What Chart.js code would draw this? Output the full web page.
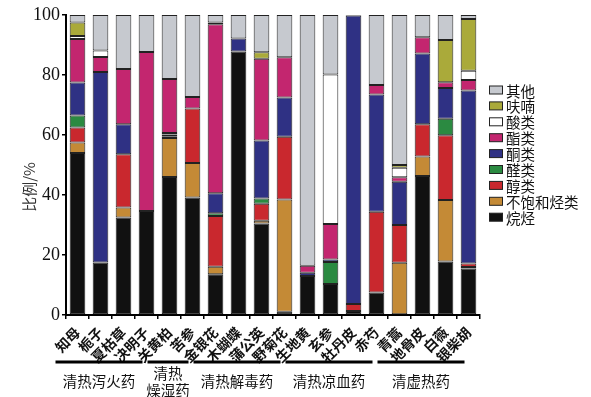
<!DOCTYPE html>
<html>
<head>
<meta charset="utf-8">
<script src="https://cdn.jsdelivr.net/npm/chart.js@4.4.1/dist/chart.umd.min.js"></script>
<style>
  html, body { margin: 0; padding: 0; background: #fff; }
  #chart { display: block; }
</style>
</head>
<body>
<canvas id="chart" width="591" height="397"></canvas>
<script>
const herbs = ['知母', '栀子', '夏枯草', '决明子', '关黄柏', '苦参', '金银花', '木蝴蝶', '蒲公英',
  '野菊花', '生地黄', '玄参', '牡丹皮', '赤芍', '青蒿', '地骨皮', '白薇', '银柴胡'];

// 各类成分比例 (%)
const alkanes     = [54, 17.5, 32.5, 34.7, 46, 39.2, 13.6, 87.8, 30.5, 1.1, 13, 10.3, 1.3, 7.5, 0, 46.3, 17.8, 15.5];
const alkenes     = [3.5, 0, 3.3, 0, 13, 11.5, 2.5, 0, 0.9, 37.4, 0, 0, 0, 0, 17.4, 6.5, 20.5, 0.5];
const alcohols    = [5, 0, 17.8, 0, 0.6, 18.1, 16.9, 0, 5.7, 20.9, 0, 0, 2.4, 26.9, 12.6, 10.8, 21.6, 1.2];
const aldehydes   = [4, 0, 0, 0, 0.6, 0, 0.9, 0, 1.7, 0, 0, 7.4, 0, 0, 0, 0, 5.5, 0];
const ketones     = [11, 63.5, 10, 0, 0.5, 0, 6.7, 4.4, 19.4, 13.1, 1.1, 0.8, 96.1, 39.1, 14.4, 23.6, 10.3, 57.6];
const esters      = [14.5, 5, 18.4, 53, 18, 3.9, 56.3, 0, 27.2, 13.4, 2.3, 11.8, 0, 3.2, 1.5, 5.4, 1.9, 3.5];
const acids       = [1, 2.2, 0, 0, 0, 0, 0, 0, 0, 0, 0, 49.9, 0, 0, 3.2, 0, 0, 3.1];
const furans      = [4.5, 0, 0, 0, 0, 0, 0.6, 0, 2.2, 0, 0, 0, 0, 0, 0.9, 0, 14.1, 17.3];
const others      = [2.5, 11.8, 18, 12.3, 21.3, 27.3, 2.5, 7.8, 12.4, 14.1, 83.6, 19.8, 0.2, 23.3, 50, 7.4, 8.3, 1.3];

const yTicks = [0, 20, 40, 60, 80, 100];

// 药物分组 (起止下标)
const groups = [
  { name: ['清热泻火药'], from: 0, to: 3 },
  { name: ['清热', '燥湿药'], from: 4, to: 5 },
  { name: ['清热解毒药'], from: 6, to: 9 },
  { name: ['清热凉血药'], from: 10, to: 13 },
  { name: ['清虚热药'], from: 14, to: 17 }
];

const cjk = "'Noto Sans CJK SC', 'Noto Sans', sans-serif";

const series = [
  { label: '烷烃', data: alkanes, color: '#111111' },
  { label: '不饱和烃类', data: alkenes, color: '#c48a36' },
  { label: '醇类', data: alcohols, color: '#c9282e' },
  { label: '醛类', data: aldehydes, color: '#2b8a41' },
  { label: '酮类', data: ketones, color: '#2f3184' },
  { label: '酯类', data: esters, color: '#c3266f' },
  { label: '酸类', data: acids, color: '#ffffff' },
  { label: '呋喃', data: furans, color: '#aaaa3a' },
  { label: '其他', data: others, color: '#c6c9cf' }
];

const deko = {
  id: 'deko',
  afterDraw(chart) {
    const c = chart.ctx;
    const x = chart.scales.x;
    c.save();

    // y轴标题
    c.save();
    c.translate(29, 187);
    c.rotate(-Math.PI / 2);
    c.fillStyle = '#333';
    c.font = '15px ' + cjk;
    c.textAlign = 'center';
    c.textBaseline = 'middle';
    c.fillText('比例/%', 0, 0);
    c.restore();

    // 图例 (从上到下倒序)
    const ds = chart.data.datasets;
    c.font = '14.5px ' + cjk;
    c.textBaseline = 'middle';
    c.textAlign = 'left';
    for (let i = 0; i < ds.length; i++) {
      const d = ds[ds.length - 1 - i];
      const yy = 90 + i * 15.9;
      c.fillStyle = d.backgroundColor;
      c.fillRect(489.5, yy - 4, 13, 8);
      c.strokeStyle = '#222';
      c.lineWidth = 1;
      c.strokeRect(489.5, yy - 4, 13, 8);
      c.fillStyle = '#111';
      c.fillText(d.label, 506, yy + 1);
    }

    // 分组线和分组名
    c.strokeStyle = '#000';
    c.lineWidth = 3;
    c.fillStyle = '#111';
    c.font = '14.5px ' + cjk;
    c.textAlign = 'center';
    groups.forEach(g => {
      const l = x.getPixelForValue(g.from) - 22;
      const r = x.getPixelForValue(g.to) - 4;
      c.beginPath();
      c.moveTo(l, 362);
      c.lineTo(r, 362);
      c.stroke();
      const mid = (l + r) / 2;
      if (g.name.length === 1) {
        c.fillText(g.name[0], mid, 381);
      } else {
        c.fillText(g.name[0], mid, 373);
        c.fillText(g.name[1], mid, 390);
      }
    });
    c.restore();
  }
};

new Chart(document.getElementById('chart'), {
  type: 'bar',
  data: {
    labels: herbs,
    datasets: series.map(s => ({
      label: s.label,
      data: s.data,
      backgroundColor: s.color,
      borderColor: '#222',
      borderWidth: 1,
      borderSkipped: false,
      barPercentage: 0.68,
      categoryPercentage: 1
    }))
  },
  options: {
    responsive: false,
    animation: false,
    layout: { padding: { top: 15, right: 111, bottom: 0, left: 0 } },
    plugins: { legend: { display: false }, tooltip: { enabled: false } },
    scales: {
      x: {
        stacked: true,
        afterFit: s => { s.height = 82; },
        border: { display: true, color: '#000', width: 2 },
        grid: { display: true, drawOnChartArea: false, drawTicks: true, tickLength: 4, color: '#000', lineWidth: 1.5 },
        ticks: {
          autoSkip: false, minRotation: 45, maxRotation: 45, padding: 5,
          color: '#111', font: { family: cjk, size: 14, weight: 'bold' }
        }
      },
      y: {
        stacked: true,
        min: 0,
        max: 100,
        afterFit: s => { s.width = 66; },
        afterBuildTicks: s => { s.ticks = yTicks.map(v => ({ value: v })); },
        border: { display: true, color: '#000', width: 2 },
        grid: { display: true, drawOnChartArea: false, drawTicks: true, tickLength: 4, color: '#000', lineWidth: 1.5 },
        ticks: {
          padding: 2, color: '#111',
          font: { family: "'Liberation Serif', 'DejaVu Serif', serif", size: 18 }
        }
      }
    }
  },
  plugins: [deko]
});
</script>
</body>
</html>
